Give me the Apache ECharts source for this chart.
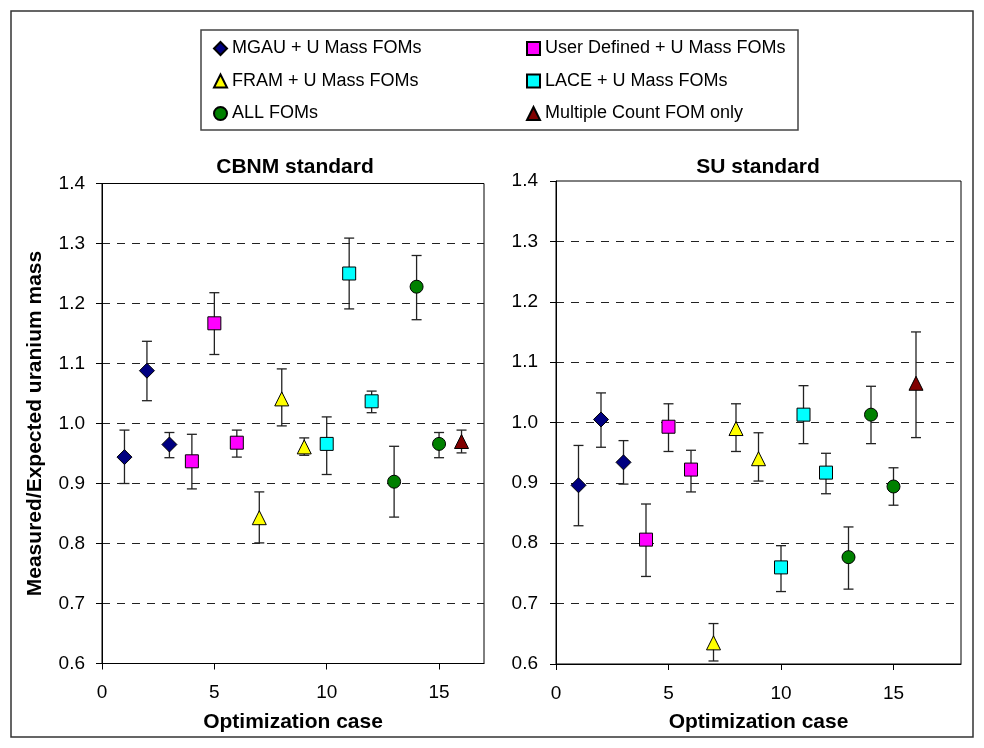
<!DOCTYPE html>
<html>
<head>
<meta charset="utf-8">
<title>Measured/Expected uranium mass</title>
<script src="https://cdn.jsdelivr.net/npm/echarts@6/dist/echarts.min.js"></script>
<style>
  html, body { margin: 0; padding: 0; background: #fff; }
  #chart { width: 984px; height: 748px; }
</style>
</head>
<body>
<div id="chart"></div>
<script>
// groups of optimization cases (same in both panels)
var groupNames = ['MGAU + U Mass FOMs', 'User Defined + U Mass FOMs', 'FRAM + U Mass FOMs',
  'LACE + U Mass FOMs', 'ALL FOMs', 'Multiple Count FOM only'];
var groupCases = [[1, 2, 3], [4, 5, 6], [7, 8, 9], [10, 11, 12], [13, 14, 15], [16]];

// CBNM standard: value, lower and upper end of the error bar
var cbnmValue = [[0.944, 1.088, 0.965], [0.937, 1.167, 0.968], [0.843, 1.041, 0.961],
  [0.966, 1.250, 1.037], [0.903, 1.228, 0.966], [0.970]];
var cbnmLow = [[0.900, 1.038, 0.943], [0.891, 1.115, 0.944], [0.801, 0.996, 0.947],
  [0.915, 1.191, 1.018], [0.844, 1.173, 0.943], [0.951]];
var cbnmHigh = [[0.989, 1.137, 0.985], [0.982, 1.218, 0.989], [0.886, 1.091, 0.976],
  [1.011, 1.309, 1.054], [0.962, 1.280, 0.985], [0.989]];

// SU standard
var suValue = [[0.896, 1.005, 0.934], [0.806, 0.993, 0.922], [0.635, 0.990, 0.940],
  [0.760, 1.013, 0.917], [0.777, 1.013, 0.894], [1.065]];
var suLow = [[0.829, 0.959, 0.898], [0.745, 0.952, 0.885], [0.605, 0.952, 0.903],
  [0.720, 0.965, 0.882], [0.724, 0.965, 0.863], [0.975]];
var suHigh = [[0.962, 1.049, 0.970], [0.865, 1.031, 0.954], [0.667, 1.031, 0.983],
  [0.796, 1.061, 0.949], [0.827, 1.060, 0.925], [1.150]];

var xTicks = [0, 5, 10, 15];

var font = 'Liberation Sans, Arial, sans-serif';
var symbols = ['diamond', 'rect', 'triangle', 'rect', 'circle', 'triangle'];
var symbolSizes = [15, 13, 14, 13, 13, 14];
var colors = ['#000080', '#ff00ff', '#ffff00', '#00ffff', '#008000', '#800000'];

var myChart = echarts.init(document.getElementById('chart'));

function errorBar(params, api) {
  var x = api.value(0);
  var hi = api.coord([x, api.value(2)]);
  var lo = api.coord([x, api.value(1)]);
  var hw = 5;
  var st = { stroke: '#222', lineWidth: 1.3 };
  return {
    type: 'group',
    children: [
      { type: 'line', shape: { x1: hi[0], y1: hi[1], x2: lo[0], y2: lo[1] }, style: st },
      { type: 'line', shape: { x1: hi[0] - hw, y1: hi[1], x2: hi[0] + hw, y2: hi[1] }, style: st },
      { type: 'line', shape: { x1: lo[0] - hw, y1: lo[1], x2: lo[0] + hw, y2: lo[1] }, style: st }
    ]
  };
}

var series = [];
[[cbnmValue, cbnmLow, cbnmHigh], [suValue, suLow, suHigh]].forEach(function (panel, p) {
  groupNames.forEach(function (name, g) {
    var cases = groupCases[g];
    series.push({
      type: 'custom',
      xAxisIndex: p,
      yAxisIndex: p,
      z: 2,
      silent: true,
      renderItem: errorBar,
      encode: { x: 0, y: [1, 2] },
      data: cases.map(function (c, i) { return [c, panel[1][g][i], panel[2][g][i]]; })
    });
    series.push({
      name: name,
      type: 'scatter',
      xAxisIndex: p,
      yAxisIndex: p,
      z: 3,
      symbol: symbols[g],
      symbolSize: symbolSizes[g],
      itemStyle: { color: colors[g], borderColor: '#000', borderWidth: 1, opacity: 1 },
      data: cases.map(function (c, i) { return [c, panel[0][g][i]]; })
    });
  });
});

function xAxis(idx, max) {
  return {
    type: 'value',
    gridIndex: idx,
    min: 0,
    max: max,
    interval: 5,
    name: 'Optimization case',
    nameLocation: 'middle',
    nameGap: 48,
    nameTextStyle: { fontFamily: font, fontSize: 21, fontWeight: 'bold', color: '#000' },
    axisLine: { lineStyle: { color: '#000', width: 1 } },
    axisTick: { inside: false, length: 6, customValues: xTicks, lineStyle: { color: '#000' } },
    axisLabel: {
      customValues: xTicks,
      margin: 20,
      fontFamily: font, fontSize: 19, color: '#000',
      formatter: function (v) { return v % 5 === 0 ? String(v) : ''; }
    },
    splitLine: { show: false }
  };
}

function yAxis(idx, withName) {
  return {
    type: 'value',
    gridIndex: idx,
    min: 0.6,
    max: 1.4,
    interval: 0.1,
    name: withName ? 'Measured/Expected uranium mass' : '',
    nameLocation: 'middle',
    nameGap: 56,
    nameTextStyle: { fontFamily: font, fontSize: 21, fontWeight: 'bold', color: '#000' },
    axisLine: { show: true, lineStyle: { color: '#000', width: 1 } },
    axisTick: { show: true, inside: false, length: 6, lineStyle: { color: '#000' } },
    axisLabel: {
      margin: idx === 0 ? 17 : 18,
      fontFamily: font, fontSize: 19, color: '#000',
      formatter: function (v) { return v.toFixed(1); }
    },
    splitLine: {
      show: true,
      showMinLine: false,
      showMaxLine: false,
      lineStyle: { color: '#222', type: [8, 7], width: 1 }
    }
  };
}

var legendBase = {
  orient: 'vertical',
  top: 38.5,
  padding: 0,
  itemWidth: 13,
  itemHeight: 13,
  itemGap: 12.5,
  selectedMode: false,
  textStyle: { fontFamily: font, fontSize: 18, color: '#000', lineHeight: 20 }
};

var option = {
  backgroundColor: '#fff',
  animation: false,
  graphic: [
    { type: 'rect', shape: { x: 11, y: 11, width: 962, height: 726 },
      style: { fill: 'none', stroke: '#333', lineWidth: 1.5 }, silent: true },
    { type: 'rect', shape: { x: 201, y: 30, width: 597, height: 100 },
      style: { fill: 'none', stroke: '#444', lineWidth: 1.5 }, silent: true },
    { type: 'text', x: 295, y: 167, silent: true,
      style: { text: 'CBNM standard', fontFamily: font, fontSize: 21, fontWeight: 'bold',
        fill: '#000', textAlign: 'center', textVerticalAlign: 'middle' } },
    { type: 'text', x: 758, y: 167, silent: true,
      style: { text: 'SU standard', fontFamily: font, fontSize: 21, fontWeight: 'bold',
        fill: '#000', textAlign: 'center', textVerticalAlign: 'middle' } }
  ],
  legend: [
    Object.assign({}, legendBase, { left: 213, data: [groupNames[0], groupNames[2], groupNames[4]] }),
    Object.assign({}, legendBase, { left: 526, data: [groupNames[1], groupNames[3], groupNames[5]] })
  ],
  grid: [
    { left: 102, top: 183.5, width: 382, height: 480, show: true, borderColor: '#000', borderWidth: 1, backgroundColor: 'transparent' },
    { left: 556, top: 181, width: 405, height: 483, show: true, borderColor: '#000', borderWidth: 1, backgroundColor: 'transparent' }
  ],
  xAxis: [xAxis(0, 17), xAxis(1, 18)],
  yAxis: [yAxis(0, true), yAxis(1, false)],
  series: series
};

myChart.setOption(option);
</script>
</body>
</html>
